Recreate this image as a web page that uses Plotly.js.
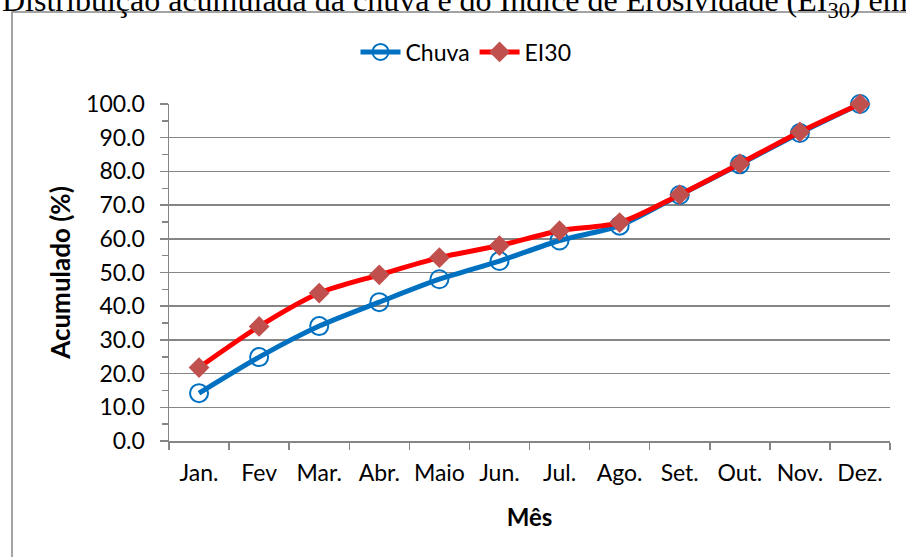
<!DOCTYPE html>
<html>
<head>
<meta charset="utf-8">
<script src="https://cdn.plot.ly/plotly-3.0.1.min.js"></script>
<style>
html,body{margin:0;padding:0;background:#fff;overflow:hidden;}
#chart{width:906px;height:557px;}
</style>
</head>
<body>
<div id="chart"></div>
<script>
const months = ["Jan.", "Fev", "Mar.", "Abr.", "Maio", "Jun.", "Jul.", "Ago.", "Set.", "Out.", "Nov.", "Dez."];
const chuva = [14.2, 24.9, 34.1, 41.2, 48.0, 53.4, 59.5, 63.9, 73.0, 82.1, 91.4, 100.0];
const ei30  = [21.8, 34.0, 43.9, 49.3, 54.4, 58.0, 62.4, 64.8, 73.1, 82.3, 91.7, 100.0];
const seriesNames = ["Chuva", "EI30"];
const titleText = "Distribuição acumulada da chuva e do Índice de Erosividade (EI<sub>30</sub>) em";

const baseFont = "Lato, 'Open Sans', sans-serif";
const gray = "#868686";

const traces = [
  {
    x: months, y: chuva, name: seriesNames[0], type: "scatter", mode: "lines+markers",
    line: {color: "#0070C0", width: 5, shape: "spline", smoothing: 0.8},
    marker: {symbol: "circle-open", size: 18, color: "#0070C0", line: {width: 2, color: "#0070C0"}},
    cliponaxis: false
  },
  {
    x: months, y: ei30, name: seriesNames[1], type: "scatter", mode: "lines+markers",
    line: {color: "#FF0000", width: 5, shape: "spline", smoothing: 0.8},
    marker: {symbol: "diamond", size: 16, color: "#C0504D", line: {width: 0}},
    cliponaxis: false
  }
];

const L = 169, R = 16, T = 104, B = 116;
const W = 906, H = 557;
const pw = W - L - R, ph = H - T - B;
const px = v => (v - L) / pw;
const py = v => (H - B - v) / ph;

const layout = {
  width: W, height: H,
  margin: {l: L, r: R, t: T, b: B, pad: 0},
  paper_bgcolor: "rgba(0,0,0,0)",
  plot_bgcolor: "rgba(0,0,0,0)",
  font: {family: baseFont, size: 23, color: "#000"},
  showlegend: true,
  legend: {
    orientation: "h", x: px(466), y: py(52), xanchor: "center", yanchor: "middle",
    font: {family: baseFont, size: 23, color: "#000"}, bgcolor: "rgba(0,0,0,0)",
    itemwidth: 40, tracegroupgap: 0
  },
  xaxis: {
    type: "category", range: [-0.5, 11.5], fixedrange: true,
    showline: true, linecolor: gray, linewidth: 1.5,
    ticks: "outside", tickson: "boundaries", ticklen: 7, tickcolor: gray, tickwidth: 1.5,
    ticklabelstandoff: 11, tickangle: 0,
    showgrid: false, zeroline: false,
    tickfont: {family: baseFont, size: 23, color: "#000"},
    title: {text: "<b>Mês</b>", font: {family: baseFont, size: 24, color: "#000"}, standoff: 24}
  },
  yaxis: {
    range: [0, 100], dtick: 10, tick0: 0, tickformat: ".1f", fixedrange: true,
    showline: true, linecolor: gray, linewidth: 1.5,
    ticks: "outside", ticklen: 8, tickcolor: gray, tickwidth: 1.5,
    ticklabelstandoff: 10,
    showgrid: true, gridcolor: gray, gridwidth: 1.5, zeroline: false,
    minor: {dtick: 5, ticks: "outside", ticklen: 6, tickcolor: gray, tickwidth: 1.5, showgrid: false},
    tickfont: {family: baseFont, size: 23, color: "#000"},
    title: {text: "<b>Acumulado (%)</b>", font: {family: baseFont, size: 26, color: "#000"}, standoff: 8}
  },
  shapes: [{
    type: "rect", xref: "paper", yref: "paper",
    x0: px(12), x1: px(1000), y0: py(700), y1: py(12),
    line: {color: gray, width: 1.5}, fillcolor: "rgba(0,0,0,0)", layer: "below"
  }],
  annotations: [{
    text: titleText, xref: "paper", yref: "paper",
    x: px(0), y: py(3), xanchor: "left", yanchor: "middle", showarrow: false,
    font: {family: "'Liberation Serif', 'Times New Roman', serif", size: 32, color: "#000"}
  }]
};

Plotly.newPlot("chart", traces, layout, {displayModeBar: false, staticPlot: true});
</script>
</body>
</html>
